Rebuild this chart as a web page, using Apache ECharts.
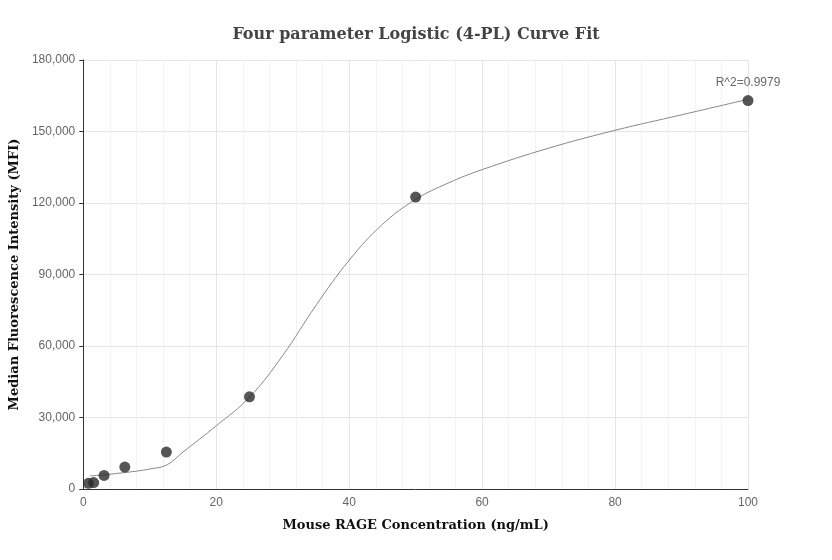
<!DOCTYPE html><html><head><meta charset="utf-8"><script src="https://cdn.jsdelivr.net/npm/echarts@6/dist/echarts.min.js"></script></head><body style="margin:0"><div id="c" style="width:832px;height:560px"></div><script>
const pointX=[0.78,1.56,3.125,6.25,12.5,25,50,100];
const pointY=[2400,2700,5700,9200,15500,38700,122500,163000];
const curveX=[1,3,5,8,10,12.5,15,20,25,30,35,40,45,50,55,60,70,80,90,100];
const curveY=[5500,5900,6500,7500,8400,10000,15500,26500,38500,56000,77000,96000,111000,121500,128500,134000,143000,150500,157000,163500];
const xTicks=[0,20,40,60,80,100];
const yTicks=[0,30000,60000,90000,120000,150000,180000];
const chart=echarts.init(document.getElementById('c'));
const fmt=v=>v.toLocaleString('en-US');
chart.setOption({
title:{text:'Four parameter Logistic (4-PL) Curve Fit',left:'center',top:22,textStyle:{fontFamily:'DejaVu Serif',fontWeight:'bold',fontSize:16,color:'#444'}},
grid:{left:83,right:84,top:60,bottom:71},
xAxis:{type:'value',min:0,max:100,interval:20,name:'Mouse RAGE Concentration (ng/mL)',nameLocation:'middle',nameGap:30,
nameTextStyle:{fontFamily:'DejaVu Serif',fontWeight:'bold',fontSize:13,color:'#111'},
axisLine:{lineStyle:{color:'#333'}},axisTick:{show:false},axisLabel:{color:'#666',fontSize:12},
splitLine:{lineStyle:{color:'#e6e6e6'}},minorTick:{show:false,splitNumber:5},minorSplitLine:{show:true,lineStyle:{color:'#f3f3f3'}}},
yAxis:{type:'value',min:0,max:180000,interval:30000,name:'Median Fluorescence Intensity (MFI)',nameLocation:'middle',nameGap:62,
nameTextStyle:{fontFamily:'DejaVu Serif',fontWeight:'bold',fontSize:13,color:'#111'},
axisLine:{show:true,lineStyle:{color:'#333'}},axisTick:{show:true,length:4,lineStyle:{color:'#333'}},axisLabel:{color:'#666',fontSize:12,formatter:fmt},
splitLine:{lineStyle:{color:'#e6e6e6'}}},
series:[
{type:'line',data:curveX.map((x,i)=>[x,curveY[i]]),smooth:0.4,showSymbol:false,lineStyle:{color:'#888',width:1},z:2},
{type:'scatter',data:pointX.map((x,i)=>[x,pointY[i]]),symbolSize:11,itemStyle:{color:'#2b2b2b'},z:3,
label:{show:true,position:'top',distance:6,color:'#444',fontSize:12,formatter:p=>p.dataIndex===pointX.length-1?'R^2=0.9979':''}}
]});
</script></body></html>
